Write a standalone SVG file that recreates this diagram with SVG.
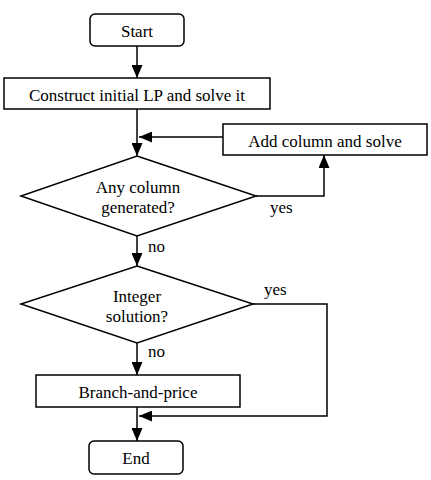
<svg xmlns="http://www.w3.org/2000/svg" width="431" height="480" viewBox="0 0 431 480">
<defs>
<style>
.box{fill:#fff;stroke:#000;stroke-width:1.5}
.ln{fill:none;stroke:#000;stroke-width:1.5}
text{font-family:'Liberation Serif','Times New Roman',serif;font-size:17px;fill:#000}
.c{text-anchor:middle;dominant-baseline:central}
</style>
<marker id="ah" viewBox="0 0 13 11" refX="13" refY="5.5" markerWidth="13" markerHeight="11" markerUnits="userSpaceOnUse" orient="auto">
<path d="M0,0 L13,5.5 L0,11 Z" fill="#000"/>
</marker>
</defs>
<rect width="431" height="480" fill="#fff"/>
<g id="connectors">
<line class="ln" x1="137" y1="46" x2="137" y2="78" marker-end="url(#ah)"/>
<line class="ln" x1="137" y1="109" x2="137" y2="156" marker-end="url(#ah)"/>
<line class="ln" x1="223" y1="137" x2="139" y2="137" marker-end="url(#ah)"/>
<polyline class="ln" points="256,196 324,196 324,155" marker-end="url(#ah)"/>
<line class="ln" x1="137" y1="236" x2="137" y2="266" marker-end="url(#ah)"/>
<line class="ln" x1="137" y1="343" x2="137" y2="375" marker-end="url(#ah)"/>
<polyline class="ln" points="253,304 327,304 327,416 139,416" marker-end="url(#ah)"/>
<line class="ln" x1="137" y1="407" x2="137" y2="441" marker-end="url(#ah)"/>
<text x="270" y="213">yes</text>
<text x="264" y="295">yes</text>
<text x="148" y="252">no</text>
<text x="148" y="357">no</text>
</g>
<g id="start"><rect class="box" x="90" y="14" width="94" height="32" rx="5"/><text class="c" x="137" y="31">Start</text></g>
<g id="construct"><rect class="box" x="4" y="78" width="266" height="31"/><text class="c" x="137" y="95">Construct initial LP and solve it</text></g>
<g id="addcol"><rect class="box" x="223" y="124" width="204" height="31"/><text class="c" x="325" y="141">Add column and solve</text></g>
<g id="anycol"><polygon class="box" points="137,156 256,196 137,236 21,196"/><text class="c" x="138" y="187">Any column</text><text class="c" x="138" y="207">generated?</text></g>
<g id="integer"><polygon class="box" points="137,266 253,304 137,343 21,304"/><text class="c" x="137" y="296">Integer</text><text class="c" x="137" y="316">solution?</text></g>
<g id="branch"><rect class="box" x="36" y="375" width="204" height="32"/><text class="c" x="138" y="392">Branch-and-price</text></g>
<g id="end"><rect class="box" x="89" y="441" width="94" height="33" rx="5"/><text class="c" x="136" y="458">End</text></g>
</svg>
